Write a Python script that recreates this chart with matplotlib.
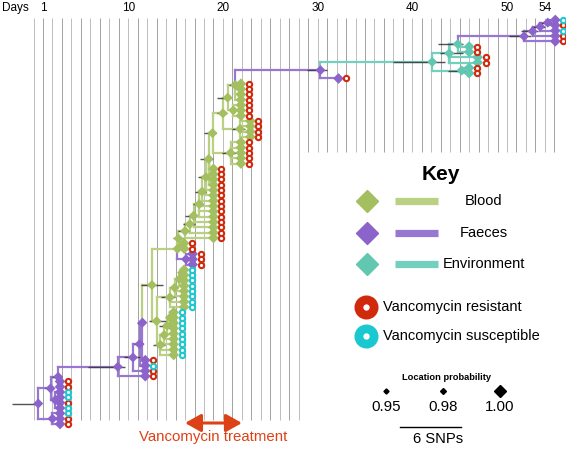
import numpy as np
import matplotlib
matplotlib.use("Agg")
import matplotlib.pyplot as plt
from matplotlib import transforms as mtransforms
from matplotlib.patches import FancyArrowPatch
from matplotlib.collections import LineCollection

plt.rcParams['font.family'] = ['Liberation Sans', 'DejaVu Sans']

NaN = float('nan')

# ---------------- data ----------------
day_ticks = [1, 10, 20, 30, 40, 50, 54]
grid_days = list(range(0, 56))
long_grid_until = 28
treatment_days = [16, 22]

# internal nodes of the time-scaled tree
node_names = ["R0", "A1", "Alow", "Atop", "A2", "Bx", "Bn", "B1", "B2", "G1", "P", "Cy", "Pp",
              "Col0", "Sm", "Col1", "Col2", "Col3", "Col4", "Col5", "Col6", "Col7", "Col8",
              "Nb2", "NbC", "Nb4", "NbB", "NbA", "NbA2",
              "CyU0", "CyU1", "CyU2", "CyU3", "CyL0", "CyL1", "CyL2", "CyL3",
              "N32", "N46", "N46a", "N46b", "N46c", "T54r", "T54a", "T54b", "T54c"]
node_parent = [None, "R0", "R0", "A1", "A1", "Atop", "Bx", "Bn", "B1", "B2", "G1", "G1", "P",
               "P", "Col0", "Col0", "Col1", "Col2", "Col3", "Col4", "Col5", "Col6", "Col7",
               "Col8", "Col8", "Nb2", "Nb2", "Nb4", "Nb4",
               "Cy", "CyU0", "CyU1", "CyU2", "Cy", "CyL0", "CyL1", "CyL2",
               "NbA", "N32", "N46", "N46", "N46a", "N46c", "T54r", "T54a", "T54b"]
node_day = [0.5, 1.8, 2.0, 2.6, 2.3, 8.9, 10.5, 11.2, 11.5, 12.5, 15.2, 13.0, 16.1,
            15.3, 15.6, 16.0, 16.5, 16.9, 17.5, 17.8, 18.2, 18.5, 18.9,
            20.0, 20.8, 20.5, 21.8, 21.3, 21.1,
            14.4, 14.9, 15.4, 15.7, 13.4, 13.8, 14.1, 14.4,
            30.3, 42.1, 43.9, 45.2, 44.8, 51.8, 52.7, 53.5, 54.3]
node_state = ["F", "F", "F", "F", "F", "F", "F", "F", "F", "B", "B", "B", "F",
              "B", "B", "B", "B", "B", "B", "B", "B", "B", "B",
              "B", "B", "B", "B", "B", "B",
              "B", "B", "B", "B", "B", "B", "B", "B",
              "F", "E", "E", "E", "E", "F", "F", "F", "F"]
node_hpd_lo = [-2.3, 1.2, NaN, 2.0, NaN, 5.7, 9.6, 10.6, 10.9, 11.3, 14.9, 12.2, NaN,
               14.7, NaN, 15.3, 15.8, 16.0, 16.8, 17.0, 17.4, 17.6, 18.0,
               19.4, 19.9, 19.4, 21.0, 20.6, NaN,
               13.5, NaN, NaN, NaN, 12.6, NaN, 13.3, NaN,
               28.9, 38.0, 42.9, 43.8, 42.7, 50.2, 51.5, 52.5, 53.3]
node_hpd_hi = [0.6, 2.1, NaN, 3.0, NaN, 9.7, 11.2, 11.6, 11.8, 13.7, 16.3, 14.0, NaN,
               15.8, NaN, 16.4, 17.0, 17.3, 17.9, 18.2, 18.6, 18.9, 19.3,
               20.4, 21.3, 20.9, 22.3, 21.8, NaN,
               14.9, NaN, NaN, NaN, 13.9, NaN, 14.5, NaN,
               31.0, 43.4, 45.3, 46.0, 45.4, 52.5, 53.3, 54.0, 54.7]

# sampled isolates, grouped by parent node (top to bottom)
tip_parent = ["T54c", "T54b", "T54a", "T54r", "N46c", "N46a", "N46b", "N32",
              "NbA", "NbA2", "NbB", "NbC", "Col7", "Col6", "Col5", "Col4", "Col3", "Col2", "Col1",
              "Sm", "Pp", "CyU3", "CyU2", "CyU1", "CyU0", "CyL3", "CyL2", "CyL1", "CyL0",
              "B2", "B1", "Bn", "Bx", "Atop", "A2", "Alow"]
tip_day = [55.1, 55.1, 55.1, 55.1, 46.0, 46.9, 46.0, 32.2,
           21.9, 21.9, 22.9, 21.9, 19.0, 19.0, 19.0, 19.0, 19.0, 19.0, 19.0,
           15.9, 16.8, 15.9, 15.9, 15.9, 15.9, 14.8, 14.8, 14.8, 14.8,
           11.8, 11.8, 11.8, 11.8, 2.8, 2.8, 2.8]
tip_state = ["F", "F", "F", "F", "E", "E", "E", "F",
             "B", "B", "B", "B", "B", "B", "B", "B", "B", "B", "B",
             "B", "F", "B", "B", "B", "B", "B", "B", "B", "B",
             "F", "F", "F", "F", "F", "F", "F"]
tip_res = ["SR", "S", "R", "R", "RR", "RR", "RR", "R",
           "RRRR", "RRR", "RRRR", "RRRRR", "RRRR", "RR", "RR", "RR", "RR", "R", "R",
           "RR", "RRR", "SS", "SS", "SS", "SS", "SSS", "SS", "SS", "SS",
           "R", "S", "R", "R", "RR", "SSRS", "SRR"]

legend_states = ["Blood", "Faeces", "Environment"]
legend_res = ["Vancomycin resistant", "Vancomycin susceptible"]
prob_labels = ["0.95", "0.98", "1.00"]
scale_label = "6 SNPs"

# ---------------- styles ----------------
branch_col = {"B": "#bad183", "F": "#9877d3", "E": "#72d0bc"}
node_col = {"B": "#a3bf5f", "F": "#8b63ca", "E": "#62c7b1"}
res_col = {"R": "#d0290b", "S": "#1cc8d0"}
orange = "#dd4116"

W, H = 566, 450
fig = plt.figure(figsize=(W / 100, H / 100), dpi=100)
ax = fig.add_axes([0, 0, 1, 1])
PX_DAY1, PX_PER_DAY = 43.0, 9.47
ax.set_xlim(1 + (0 - PX_DAY1) / PX_PER_DAY, 1 + (W - PX_DAY1) / PX_PER_DAY)
ax.set_ylim(H, 0)
ax.axis('off')

lax = fig.add_axes([0, 0, 1, 1], facecolor='none')
lax.set_xlim(0, W)
lax.set_ylim(H, 0)
lax.axis('off')

# ---------------- tree geometry ----------------
tips = []
for par, d, st, rs in zip(tip_parent, tip_day, tip_state, tip_res):
    for r in rs:
        tips.append((par, d, st, r))
n_tips = len(tips)
Y_TOP, Y_BOT = 20.0, 424.0
tip_y = [Y_TOP + i * (Y_BOT - Y_TOP) / (n_tips - 1) for i in range(n_tips)]

nd_day = dict(zip(node_names, node_day))
nd_state = dict(zip(node_names, node_state))
children = {n: [] for n in node_names}
for n, p in zip(node_names, node_parent):
    if p is not None:
        children[p].append(("n", n))
for i, t in enumerate(tips):
    children[t[0]].append(("t", i))

ny = {}


def get_y(n):
    ys = [get_y(c) if k == "n" else tip_y[c] for k, c in children[n]]
    ny[n] = (min(ys) + max(ys)) / 2
    return ny[n]


root = node_names[node_parent.index(None)]
get_y(root)

# grid lines (one per day)
for d in grid_days:
    bottom = 420 if d <= long_grid_until else 152
    shade = '#a2a2a2' if d % 2 else '#bdbdbd'
    ax.vlines(d, 18, bottom, color=shade, lw=0.7, zorder=0)

segs, cols = [], []
for n in node_names:
    px, py = nd_day[n], ny[n]
    for k, c in children[n]:
        if k == "n":
            cx, cy, cs = nd_day[c], ny[c], nd_state[c]
        else:
            cx, cy, cs = tips[c][1], tip_y[c], tips[c][2]
        segs.append([(px, py), (px, cy)])
        segs.append([(px, cy), (cx, cy)])
        cols += [branch_col[cs]] * 2
ax.add_collection(LineCollection(segs, colors=cols, linewidths=1.6, zorder=2, capstyle='projecting'))

# HPD bars
for n, lo, hi in zip(node_names, node_hpd_lo, node_hpd_hi):
    if not np.isnan(lo):
        ax.hlines(ny[n], lo, hi, color='#353535', lw=1.0, alpha=0.85, zorder=3)

# tip diamonds
ax.scatter([t[1] for t in tips], tip_y, marker='D', s=30,
           c=[node_col[t[2]] for t in tips], edgecolors='none', zorder=4)
# node diamonds
ax.scatter(node_day, [ny[n] for n in node_names], marker='D', s=26,
           c=[node_col[s] for s in node_state], edgecolors='none', zorder=4)

# resistance rings
ring_tr = mtransforms.offset_copy(ax.transData, fig=fig, x=8, y=0, units='dots')
for r in ["R", "S"]:
    xs = [t[1] for t in tips if t[3] == r]
    ys = [y for t, y in zip(tips, tip_y) if t[3] == r]
    ax.plot(xs, ys, ls='none', marker='o', ms=3.8, mfc='white', mec=res_col[r],
            mew=1.5, transform=ring_tr, zorder=5)

# day axis labels
for d in day_ticks:
    ax.text(d, 8, str(d), ha='center', va='center', fontsize=8.5)
lax.text(2, 8, "Days", ha='left', va='center', fontsize=8.5)

# treatment arrow
arr = FancyArrowPatch((treatment_days[0], 423), (treatment_days[1], 423),
                      arrowstyle='<|-|>,head_length=0.8,head_width=0.45',
                      mutation_scale=12, color=orange, lw=2.2, zorder=6,
                      shrinkA=0, shrinkB=0)
ax.add_patch(arr)
ax.text(sum(treatment_days) / 2, 437, "Vancomycin treatment", ha='center', va='center',
        fontsize=10.8, color=orange)

# ---------------- key ----------------
lax.text(441, 175, "Key", ha='center', va='center', fontsize=15, fontweight='bold')
for lab, st, y in zip(legend_states, ["B", "F", "E"], [201, 233, 264]):
    lax.plot([367], [y], marker='D', ms=11, color=node_col[st], ls='none')
    lax.plot([395, 438], [y, y], color=branch_col[st], lw=5.2, solid_capstyle='butt')
    lax.text(484, y, lab, ha='center', va='center', fontsize=10.5)
for lab, r, y in zip(legend_res, ["R", "S"], [307, 336]):
    lax.plot([366], [y], marker='o', ms=11, mfc='white', mec=res_col[r], mew=6.3, ls='none')
    lax.text(383, y, lab, ha='left', va='center', fontsize=10.5)
lax.text(447, 378, "Location probability", ha='center', va='center', fontsize=6.7,
         fontweight='bold')
for lab, x, ms in zip(prob_labels, [386, 443, 500], [2.6, 3.0, 6.2]):
    lax.plot([x], [391], marker='D', ms=ms, color='black', ls='none')
    lax.text(x, 407, lab, ha='center', va='center', fontsize=10.8)
lax.plot([400, 461], [427, 427], color='black', lw=1.0)
lax.text(438, 439, scale_label, ha='center', va='center', fontsize=10.6)

fig.savefig("out.png", dpi=100)
